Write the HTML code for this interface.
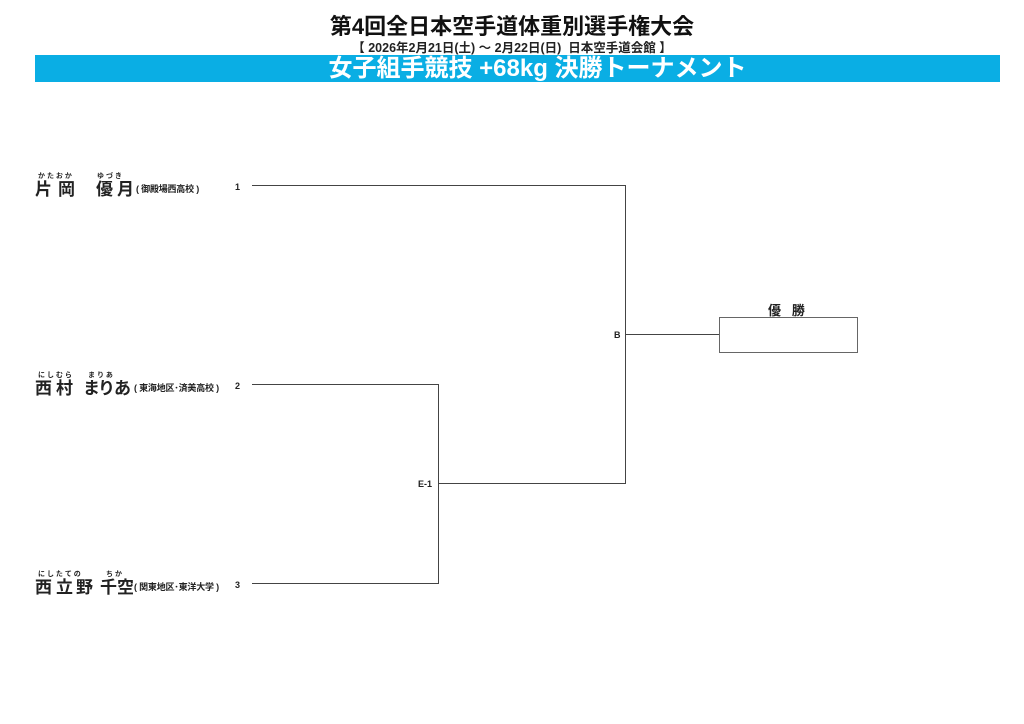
<!DOCTYPE html><html><head><meta charset="utf-8"><style>
body{margin:0;width:1024px;height:724px;background:#fff;position:relative;font-family:"Liberation Sans","Noto Sans CJK JP",sans-serif;color:#222;overflow:hidden}
.a{position:absolute;white-space:nowrap}
.h{position:absolute;background:#444;height:1px}
.v{position:absolute;background:#444;width:1px}
.c{position:absolute;font-size:17px;font-weight:bold;line-height:20px}
.r{position:absolute;font-size:7px;font-weight:bold;line-height:8px}
.sc{font-size:9px;font-weight:bold;letter-spacing:-0.2px}
.no{font-size:9px;font-weight:bold}
</style></head><body>
<div class="a" style="left:0;width:1024px;top:9px;text-align:center;font-size:22px;font-weight:bold;color:#111">第4回全日本空手道体重別選手権大会</div>
<div class="a" style="left:0;width:1024px;top:37px;text-align:center;font-size:12.5px;font-weight:bold">【 2026年2月21日(土) ～ 2月22日(日)&nbsp; 日本空手道会館 】</div>
<div class="a" style="left:35px;width:965px;top:55px;height:27px;background:#0aaee4"></div>
<div class="a" style="left:75px;width:925px;top:55px;height:27px;color:#fff;text-align:center;font-size:24px;font-weight:bold;line-height:27px">女子組手競技 +68kg 決勝トーナメント</div>

<!-- 1 -->
<div class="r" style="left:38px;top:173px">か&nbsp;た&nbsp;お&nbsp;か</div>
<div class="r" style="left:97px;top:173px">ゆ&nbsp;づ&nbsp;き</div>
<div class="c" style="left:35px;top:180px">片</div><div class="c" style="left:58px;top:180px">岡</div>
<div class="c" style="left:96px;top:180px">優</div><div class="c" style="left:117px;top:180px">月</div>
<div class="a sc" style="left:136px;top:182px">(&nbsp;御殿場西高校&nbsp;)</div>
<div class="a no" style="left:235px;top:182px">1</div>

<!-- 2 -->
<div class="r" style="left:38px;top:372px">に&nbsp;し&nbsp;む&nbsp;ら</div>
<div class="r" style="left:88px;top:372px">ま&nbsp;り&nbsp;あ</div>
<div class="c" style="left:35px;top:379px">西</div><div class="c" style="left:56px;top:379px">村</div>
<div class="c" style="left:83px;top:379px">ま</div><div class="c" style="left:98px;top:379px">り</div><div class="c" style="left:114px;top:379px">あ</div>
<div class="a sc" style="left:134px;top:381px">(&nbsp;東海地区･済美高校&nbsp;)</div>
<div class="a no" style="left:235px;top:381px">2</div>

<!-- 3 -->
<div class="r" style="left:38px;top:571px">に&nbsp;し&nbsp;た&nbsp;て&nbsp;の</div>
<div class="r" style="left:106px;top:571px">ち&nbsp;か</div>
<div class="c" style="left:35px;top:578px">西</div><div class="c" style="left:56px;top:578px">立</div><div class="c" style="left:76px;top:578px">野</div>
<div class="c" style="left:100px;top:578px">千</div><div class="c" style="left:117px;top:578px">空</div>
<div class="a sc" style="left:134px;top:580px">(&nbsp;関東地区･東洋大学&nbsp;)</div>
<div class="a no" style="left:235px;top:580px">3</div>

<div class="h" style="left:252px;top:185px;width:374px"></div>
<div class="v" style="left:625px;top:185px;height:299px"></div>
<div class="h" style="left:252px;top:384px;width:187px"></div>
<div class="v" style="left:438px;top:384px;height:200px"></div>
<div class="h" style="left:252px;top:583px;width:187px"></div>
<div class="h" style="left:438px;top:483px;width:188px"></div>
<div class="h" style="left:625px;top:334px;width:94px"></div>
<div class="a no" style="left:614px;top:330px">B</div>
<div class="a no" style="left:418px;top:479px">E-1</div>
<div class="a" style="left:719px;top:317px;width:137px;height:34px;border:1px solid #666"></div>
<div class="a" style="left:768px;top:300px;font-size:13px;font-weight:bold">優&nbsp;&nbsp;&nbsp;勝</div>
</body></html>
